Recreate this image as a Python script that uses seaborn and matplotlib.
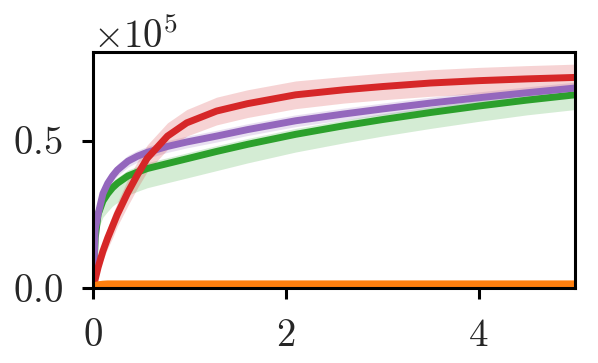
"""Growth curves with shaded bands, four runs."""

import matplotlib

matplotlib.use("Agg")
import matplotlib.pyplot as plt
import numpy as np
import pandas as pd
import seaborn as sns

X = [0.0, 0.02, 0.05, 0.1, 0.15, 0.2, 0.25, 0.36, 0.46, 0.56, 0.77, 0.97, 1.28, 1.6, 2.1, 2.6, 3.0, 3.5, 4.0, 4.5, 5.0]

# values in units of 1e5
RED = [0.0, 0.03, 0.07, 0.125, 0.17, 0.21, 0.25, 0.325, 0.385, 0.44, 0.515, 0.56, 0.60, 0.625, 0.655, 0.672, 0.683, 0.695, 0.703, 0.709, 0.714]
RED_LO = [0.0, 0.02, 0.05, 0.095, 0.135, 0.17, 0.21, 0.28, 0.34, 0.395, 0.47, 0.515, 0.553, 0.578, 0.608, 0.627, 0.638, 0.65, 0.658, 0.664, 0.669]
RED_HI = [0.0, 0.04, 0.09, 0.155, 0.205, 0.25, 0.29, 0.37, 0.43, 0.485, 0.56, 0.605, 0.647, 0.672, 0.702, 0.717, 0.728, 0.74, 0.748, 0.754, 0.759]

PURPLE = [0.0, 0.20, 0.25, 0.32, 0.355, 0.38, 0.40, 0.43, 0.447, 0.46, 0.48, 0.495, 0.515, 0.537, 0.567, 0.59, 0.607, 0.627, 0.645, 0.662, 0.678]
PURPLE_LO = [0.0, 0.19, 0.235, 0.30, 0.335, 0.36, 0.38, 0.41, 0.427, 0.44, 0.46, 0.475, 0.495, 0.517, 0.547, 0.57, 0.587, 0.607, 0.625, 0.642, 0.658]
PURPLE_HI = [0.0, 0.21, 0.265, 0.34, 0.375, 0.40, 0.42, 0.45, 0.467, 0.48, 0.50, 0.515, 0.535, 0.557, 0.587, 0.61, 0.627, 0.647, 0.665, 0.682, 0.698]

GREEN = [0.0, 0.17, 0.25, 0.295, 0.32, 0.34, 0.355, 0.38, 0.393, 0.405, 0.422, 0.438, 0.463, 0.487, 0.521, 0.55, 0.571, 0.595, 0.617, 0.637, 0.655]
GREEN_LO = [0.0, 0.13, 0.20, 0.24, 0.26, 0.278, 0.29, 0.315, 0.328, 0.34, 0.357, 0.373, 0.398, 0.424, 0.461, 0.492, 0.515, 0.541, 0.565, 0.587, 0.605]
GREEN_HI = [0.0, 0.19, 0.27, 0.315, 0.34, 0.36, 0.375, 0.40, 0.413, 0.425, 0.442, 0.458, 0.483, 0.507, 0.541, 0.57, 0.591, 0.615, 0.637, 0.657, 0.675]

ORANGE = [0.0, 0.008, 0.011, 0.013, 0.014, 0.014, 0.014, 0.014, 0.014, 0.014, 0.014, 0.014, 0.014, 0.014, 0.014, 0.014, 0.014, 0.014, 0.014, 0.014, 0.014]
ORANGE_LO = [0.0, 0.005, 0.008, 0.010, 0.011, 0.011, 0.011, 0.011, 0.011, 0.011, 0.011, 0.011, 0.011, 0.011, 0.011, 0.011, 0.011, 0.011, 0.011, 0.011, 0.011]
ORANGE_HI = [0.0, 0.012, 0.016, 0.019, 0.020, 0.020, 0.020, 0.020, 0.020, 0.020, 0.020, 0.020, 0.020, 0.020, 0.020, 0.020, 0.020, 0.020, 0.020, 0.020, 0.020]

SCALE = 1e5
SERIES = [
    ("green", GREEN, GREEN_LO, GREEN_HI, "#2ca02c"),
    ("purple", PURPLE, PURPLE_LO, PURPLE_HI, "#9467bd"),
    ("red", RED, RED_LO, RED_HI, "#d62728"),
    ("orange", ORANGE, ORANGE_LO, ORANGE_HI, "#ff7f0e"),
]

sns.set_style("ticks")
plt.rcParams.update({
    "font.family": "serif",
    "font.serif": ["cmr10"],
    "mathtext.fontset": "cm",
    "axes.formatter.use_mathtext": True,
    "axes.unicode_minus": False,
    "font.size": 28,
})

fig = plt.figure(figsize=(5.98, 3.63), dpi=100)
ax = fig.add_axes([0.156, 0.2066, 0.8055, 0.650])

x = np.array(X)
for name, mid, lo, hi, color in SERIES:
    ax.fill_between(x, np.array(lo) * SCALE, np.array(hi) * SCALE, color=color, alpha=0.2, linewidth=0)
    frame = pd.DataFrame({"x": x, "y": np.array(mid) * SCALE})
    sns.lineplot(data=frame, x="x", y="y", ax=ax, color=color, linewidth=5)

ax.set_xlim(0, 5)
ax.set_ylim(0, 0.8e5)
ax.set_xticks([0, 2, 4])
ax.set_yticks([0, 0.5e5])
ax.set_xlabel("")
ax.set_ylabel("")
ax.ticklabel_format(axis="y", style="sci", scilimits=(5, 5), useMathText=True)
ax.yaxis.get_offset_text().set_fontsize(28)
ax.tick_params(labelsize=28, length=8, width=2.2, pad=14, color="black")
for spine in ax.spines.values():
    spine.set_linewidth(2.2)
    spine.set_color("black")

fig.savefig("out.png", dpi=100)
